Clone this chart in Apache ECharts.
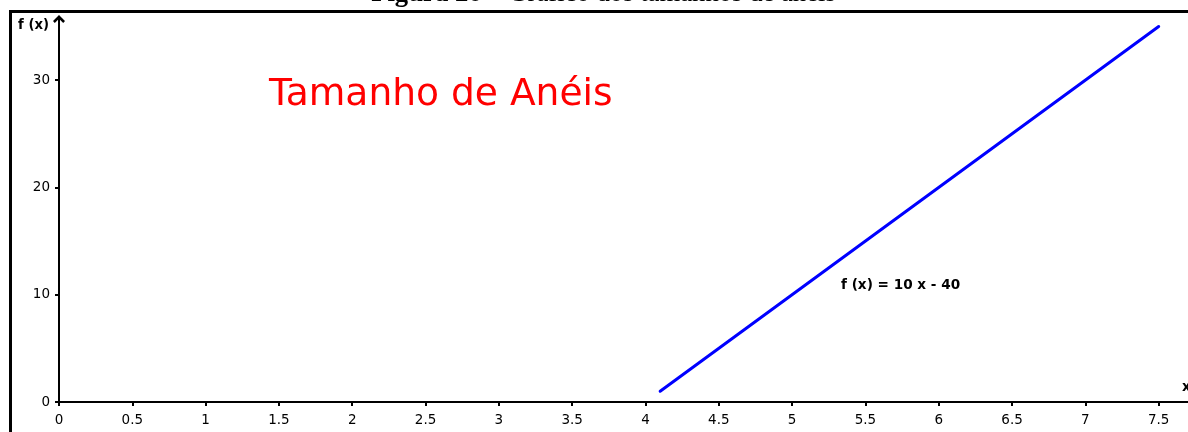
<!DOCTYPE html>
<html>
<head>
<meta charset="utf-8">
<script src="https://cdn.jsdelivr.net/npm/echarts@6/dist/echarts.min.js"></script>
<style>
  html, body { margin: 0; padding: 0; background: #fff; }
  #chart { width: 1188px; height: 432px; }
</style>
</head>
<body>
<div id="chart"></div>
<script>
// ---- data ----
const xTicks = [0, 0.5, 1, 1.5, 2, 2.5, 3, 3.5, 4, 4.5, 5, 5.5, 6, 6.5, 7, 7.5];
const yTicks = [0, 10, 20, 30];
const lineX = [4.1, 7.5];
const lineY = [1, 35];
const captionBold = 'Figura 26';
const captionRest = ' – Gráfico dos tamanhos de anéis';
const chartTitle = 'Tamanho de Anéis';
const equationLabel = 'f (x) = 10 x - 40';
const yName = 'f (x)';
const xName = 'x';

const seriesData = lineX.map((x, i) => [x, lineY[i]]);

const chart = echarts.init(document.getElementById('chart'), null, { renderer: 'canvas' });
const sans = 'DejaVu Sans';

chart.setOption({
  animation: false,
  backgroundColor: '#fff',
  grid: { left: 59, right: 0, top: 19, bottom: 30, containLabel: false },
  xAxis: {
    type: 'value',
    min: 0,
    max: 7.7,
    splitLine: { show: false },
    axisLine: { onZero: false, lineStyle: { color: '#000', width: 2 } },
    axisTick: { show: true, length: 4, lineStyle: { color: '#000', width: 2 }, customValues: xTicks },
    axisLabel: { color: '#000', fontFamily: sans, fontSize: 13.5, margin: 11, customValues: xTicks, showMinLabel: true, showMaxLabel: true }
  },
  yAxis: {
    type: 'value',
    min: 0,
    max: 35.7,
    splitLine: { show: false },
    axisLine: {
      onZero: false,
      lineStyle: { color: '#000', width: 2 },
      symbol: ['none', 'path://M0,0 L6,6 L4.2,7.8 L0,3.6 L-4.2,7.8 L-6,6 Z'],
      symbolSize: [12, 8],
      symbolOffset: [0, 0]
    },
    axisTick: { show: true, length: 4, lineStyle: { color: '#000', width: 2 }, customValues: yTicks },
    axisLabel: { color: '#000', fontFamily: sans, fontSize: 13.5, margin: 9, customValues: yTicks }
  },
  series: [{
    type: 'line',
    data: seriesData,
    showSymbol: false,
    symbol: 'none',
    lineStyle: { color: '#0000ff', width: 3, cap: 'round' },
    silent: true
  }],
  graphic: [
    {
      type: 'rect',
      shape: { x: 10.5, y: 11.5, width: 1300, height: 600 },
      style: { fill: 'none', stroke: '#000', lineWidth: 3 },
      silent: true, z: 100
    },
    {
      type: 'text',
      x: 603.5, y: -6,
      style: {
        text: '{b|' + captionBold + '}{r|' + captionRest + '}',
        align: 'center', verticalAlign: 'middle',
        rich: {
          b: { fontFamily: 'Liberation Serif', fontSize: 26.7, fontWeight: 'bold', fill: '#000' },
          r: { fontFamily: 'Liberation Serif', fontSize: 26.7, fill: '#000' }
        }
      },
      silent: true, z: 100
    },
    {
      type: 'text',
      x: 269, y: 95,
      style: { text: chartTitle, fontFamily: sans, fontSize: 37.6, fill: '#ff0000', align: 'left', verticalAlign: 'middle' },
      silent: true
    },
    {
      type: 'text',
      x: 841, y: 285,
      style: { text: equationLabel, fontFamily: sans, fontSize: 13.6, fontWeight: 'bold', fill: '#000', align: 'left', verticalAlign: 'middle' },
      silent: true
    },
    {
      type: 'text',
      x: 49, y: 26,
      style: { text: yName, fontFamily: sans, fontSize: 13.2, fontWeight: 'bold', fill: '#000', align: 'right', verticalAlign: 'middle' },
      silent: true
    },
    {
      type: 'text',
      x: 1182, y: 387,
      style: { text: xName, fontFamily: sans, fontSize: 13.5, fontWeight: 'bold', fill: '#000', align: 'left', verticalAlign: 'middle' },
      silent: true
    }
  ]
});
</script>
</body>
</html>
